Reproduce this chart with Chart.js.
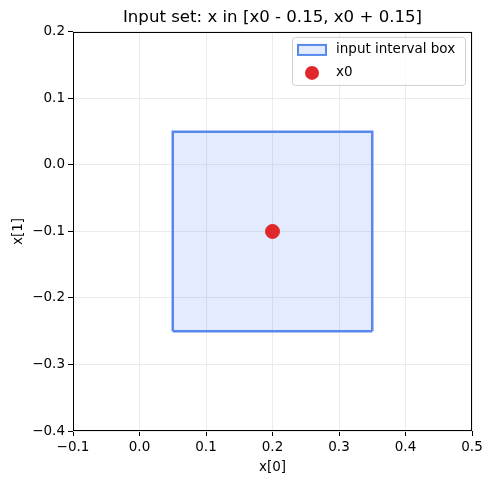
<!DOCTYPE html>
<html>
<head>
<meta charset="utf-8">
<script src="https://cdn.jsdelivr.net/npm/chart.js@4/dist/chart.umd.min.js"></script>
<style>
  html, body { margin: 0; padding: 0; background: #fff; }
  #wrap { width: 492px; height: 484px; }
</style>
</head>
<body>
<div id="wrap"><canvas id="chart" width="492" height="484"></canvas></div>
<script>
// data
const boxLo = [0.05, -0.25];   // lower corner (x[0], x[1])
const boxHi = [0.35, 0.05];    // upper corner
const x0 = [0.2, -0.1];
const xTicks = [-0.1, 0.0, 0.1, 0.2, 0.3, 0.4, 0.5];
const yTicks = [-0.4, -0.3, -0.2, -0.1, 0.0, 0.1, 0.2];
const legendLabels = ['input interval box', 'x0'];

const boxFill = 'rgba(59,130,246,0.15)';
const boxLine = '#5888ee';
const dotColor = '#e0282a';
const font = 'DejaVu Sans';

const fmt = v => v.toFixed(1).replace('-', '\u2212');

// four spines + legend box like matplotlib
const framePlugin = {
  id: 'frame',
  afterDraw(chart) {
    const { ctx, chartArea: a } = chart;
    ctx.save();
    ctx.strokeStyle = '#000';
    ctx.lineWidth = 1;
    ctx.strokeRect(Math.round(a.left) + 0.5, Math.round(a.top) + 0.5,
      Math.round(a.right - a.left) - 1, Math.round(a.bottom - a.top) - 1);

    // legend
    const lx = a.right - 180, ly = a.top + 5, lw = 173, lh = 48;
    ctx.fillStyle = 'rgba(255,255,255,0.8)';
    ctx.strokeStyle = '#d0d0d0';
    ctx.beginPath();
    ctx.roundRect(lx + 0.5, ly + 0.5, lw, lh, 3);
    ctx.fill();
    ctx.stroke();

    ctx.fillStyle = boxFill;
    ctx.strokeStyle = boxLine;
    ctx.lineWidth = 2;
    ctx.fillRect(lx + 6, ly + 8, 28, 10);
    ctx.strokeRect(lx + 6, ly + 8, 28, 10);

    ctx.fillStyle = dotColor;
    ctx.beginPath();
    ctx.arc(lx + 20, ly + 36, 7, 0, Math.PI * 2);
    ctx.fill();

    ctx.fillStyle = '#000';
    ctx.font = '13.5px "' + font + '"';
    ctx.textBaseline = 'middle';
    ctx.fillText(legendLabels[0], lx + 44, ly + 13);
    ctx.fillText(legendLabels[1], lx + 44, ly + 36);
    ctx.restore();
  }
};

function axisOpts(ticks, title, isY) {
  return {
    type: 'linear',
    min: ticks[0],
    max: ticks[ticks.length - 1],
    afterBuildTicks(scale) { scale.ticks = ticks.map(v => ({ value: v })); },
    afterFit(scale) { if (isY) scale.width = 73; else scale.height = 53; },
    grid: { color: '#ebebeb', tickColor: '#000', tickLength: 5, drawTicks: true },
    border: { display: false },
    ticks: {
      color: '#000',
      padding: 3,
      font: { family: font, size: 13.5 },
      callback: v => fmt(v)
    },
    title: {
      display: true,
      text: title,
      color: '#000',
      padding: isY ? { top: 10, bottom: 4 } : { top: 1, bottom: 8 },
      font: { family: font, size: 13.5 }
    }
  };
}

new Chart(document.getElementById('chart').getContext('2d'), {
  type: 'scatter',
  data: {
    datasets: [
      {
        // left, top and right edges, filled down to the lower bound
        type: 'line',
        label: legendLabels[0],
        data: [
          { x: boxLo[0], y: boxLo[1] },
          { x: boxLo[0], y: boxHi[1] },
          { x: boxHi[0], y: boxHi[1] },
          { x: boxHi[0], y: boxLo[1] }
        ],
        fill: { value: boxLo[1] },
        backgroundColor: boxFill,
        borderColor: boxLine,
        borderWidth: 2.5,
        pointRadius: 0,
        tension: 0,
        order: 3
      },
      {
        // bottom edge
        type: 'line',
        label: 'bottom',
        data: [
          { x: boxLo[0], y: boxLo[1] },
          { x: boxHi[0], y: boxLo[1] }
        ],
        fill: false,
        borderColor: boxLine,
        borderWidth: 2.5,
        pointRadius: 0,
        order: 2
      },
      {
        label: legendLabels[1],
        data: [{ x: x0[0], y: x0[1] }],
        backgroundColor: dotColor,
        borderColor: dotColor,
        pointRadius: 7,
        order: 1
      }
    ]
  },
  options: {
    responsive: false,
    animation: false,
    layout: { padding: { left: 0, right: 20, top: 0, bottom: 0 } },
    plugins: {
      legend: { display: false },
      tooltip: { enabled: false },
      title: {
        display: true,
        fullSize: false,
        text: 'Input set: x in [x0 - 0.15, x0 + 0.15]',
        color: '#000',
        font: { family: font, size: 16.6, weight: 'normal' },
        padding: { top: 8, bottom: 4 }
      }
    },
    scales: {
      x: axisOpts(xTicks, 'x[0]', false),
      y: axisOpts(yTicks, 'x[1]', true)
    }
  },
  plugins: [framePlugin]
});
</script>
</body>
</html>
